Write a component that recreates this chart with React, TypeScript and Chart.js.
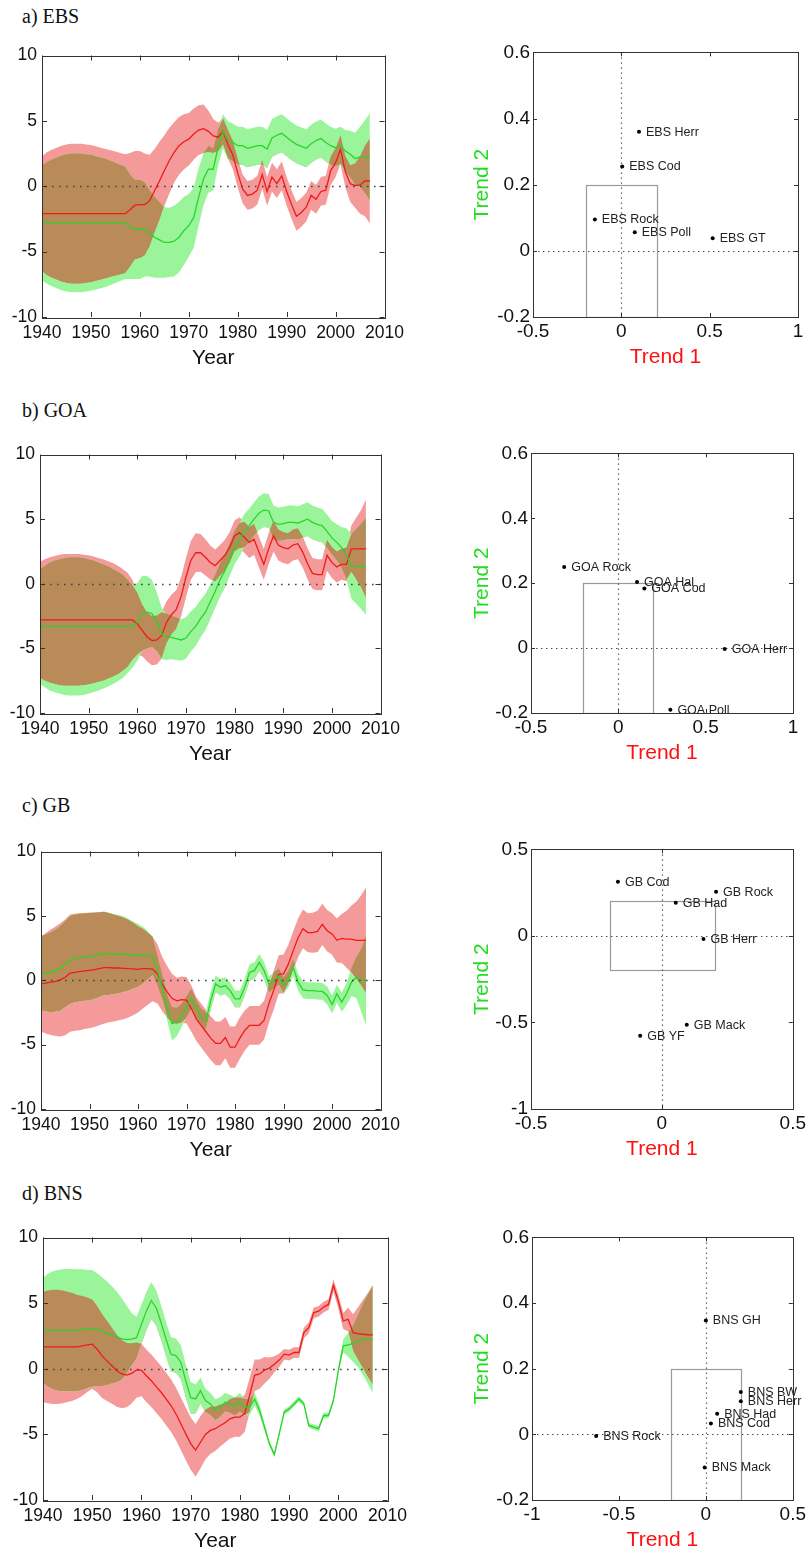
import React, { useEffect, useRef } from "react";
import { Chart, registerables } from "chart.js";

Chart.register(...registerables);

// ---------- data ----------
const YEARS = [
  1940, 1941, 1942, 1943, 1944, 1945, 1946, 1947, 1948, 1949,
  1950, 1951, 1952, 1953, 1954, 1955, 1956, 1957, 1958, 1959,
  1960, 1961, 1962, 1963, 1964, 1965, 1966, 1967, 1968, 1969,
  1970, 1971, 1972, 1973, 1974, 1975, 1976, 1977, 1978, 1979,
  1980, 1981, 1982, 1983, 1984, 1985, 1986, 1987, 1988, 1989,
  1990, 1991, 1992, 1993, 1994, 1995, 1996, 1997, 1998, 1999,
  2000, 2001, 2002, 2003, 2004, 2005, 2006, 2007,
];

// a) EBS
const EBS_T1 = [
  -2.1, -2.1, -2.1, -2.1, -2.1, -2.1, -2.1, -2.1, -2.1, -2.1,
  -2.1, -2.1, -2.1, -2.1, -2.1, -2.1, -2.1, -2.1, -1.8, -1.45,
  -1.4, -1.4, -1.1, -0.35, 0.4, 1.2, 1.95, 2.6, 3.1, 3.4,
  3.6, 4.0, 4.3, 4.4, 4.2, 3.85, 3.75, 4.2, 3.2, 2.4,
  1.0, -0.2, -0.7, -0.6, -0.3, 0.9, -0.4, 0.7, 0.2, 0.8,
  -0.4, -1.4, -2.3, -2.0, -1.6, -0.7, -1.0, -0.4, -0.3, 1.2,
  1.8, 2.8, 1.1, 0.2, 0.05, 0.1, 0.4, 0.4,
];
const EBS_T1_SE = [
  4.4, 4.7, 4.9, 5.05, 5.2, 5.3, 5.35, 5.35, 5.35, 5.3,
  5.25, 5.15, 5.05, 4.95, 4.85, 4.75, 4.65, 4.55, 4.35, 4.15,
  4.1, 3.9, 3.5, 3.2, 3.0, 2.7, 2.5, 2.3, 2.2, 2.1,
  2.0, 1.95, 1.9, 1.85, 1.6, 1.3, 1.1, 1.0, 1.1, 1.1,
  1.1, 1.1, 1.1, 1.1, 1.1, 1.1, 1.1, 1.1, 1.1, 1.1,
  1.1, 1.1, 1.1, 1.1, 1.1, 1.1, 1.1, 1.1, 1.1, 1.1,
  1.1, 1.1, 1.2, 1.4, 1.7, 2.2, 2.7, 3.25,
];
const EBS_T2 = [
  -2.8, -2.8, -2.8, -2.8, -2.8, -2.8, -2.8, -2.8, -2.8, -2.8,
  -2.8, -2.8, -2.8, -2.8, -2.8, -2.8, -2.8, -2.8, -3.1, -3.3,
  -3.3, -3.3, -3.6, -3.9, -4.1, -4.3, -4.3, -4.2, -3.9, -3.4,
  -3.0, -2.4, -0.85, 0.55, 1.3, 1.3, 3.0, 4.2, 3.5, 3.35,
  3.1, 3.1, 2.9, 3.0, 3.1, 3.1, 2.85, 3.7, 3.9, 4.05,
  3.75, 3.45, 3.2, 3.05, 2.9, 3.25, 3.5, 3.65, 3.35, 3.1,
  2.95, 3.1, 2.7, 2.45, 2.1, 2.25, 2.25, 2.25,
];
const EBS_T2_SE = [
  4.4, 4.65, 4.85, 5.0, 5.15, 5.25, 5.3, 5.3, 5.3, 5.25,
  5.2, 5.1, 5.0, 4.9, 4.75, 4.6, 4.45, 4.3, 4.0, 3.8,
  3.8, 3.6, 3.3, 3.1, 2.9, 2.7, 2.65, 2.7, 2.7, 2.6,
  2.4, 2.3, 2.2, 2.0, 1.8, 1.6, 1.4, 1.3, 1.45, 1.45,
  1.45, 1.45, 1.45, 1.45, 1.45, 1.45, 1.45, 1.45, 1.45, 1.45,
  1.45, 1.45, 1.45, 1.45, 1.45, 1.45, 1.45, 1.45, 1.45, 1.45,
  1.45, 1.45, 1.6, 1.8, 2.0, 2.3, 2.8, 3.35,
];

// b) GOA
const GOA_T1 = [
  -2.8, -2.8, -2.8, -2.8, -2.8, -2.8, -2.8, -2.8, -2.8, -2.8,
  -2.8, -2.8, -2.8, -2.8, -2.8, -2.8, -2.8, -2.8, -2.8, -2.8,
  -3.1, -3.6, -4.1, -4.4, -4.35, -4.0, -3.0, -2.4, -2.0, -1.0,
  0.5, 1.8, 2.4, 2.4, 2.05, 1.65, 1.4, 1.8, 2.2, 2.8,
  3.7, 3.95, 3.6, 3.2, 3.45, 2.45, 1.5, 2.7, 3.7, 3.0,
  2.8, 2.7, 3.0, 3.1, 2.45, 1.55, 0.8, 0.7, 0.7, 2.2,
  1.65, 1.3, 1.5, 1.5, 2.7, 2.7, 2.7, 2.7,
];
const GOA_T1_SE = [
  4.5, 4.7, 4.85, 4.95, 5.05, 5.1, 5.1, 5.1, 5.1, 5.05,
  5.0, 4.9, 4.8, 4.7, 4.55, 4.4, 4.2, 3.95, 3.65, 3.1,
  2.4, 2.0, 1.9, 1.9, 1.9, 1.8, 1.65, 1.55, 1.5, 1.5,
  1.5, 1.5, 1.5, 1.45, 1.4, 1.3, 1.25, 1.2, 1.2, 1.2,
  1.2, 1.2, 1.2, 1.2, 1.2, 1.2, 1.2, 1.2, 1.2, 1.2,
  1.2, 1.2, 1.2, 1.2, 1.2, 1.2, 1.2, 1.2, 1.2, 1.2,
  1.2, 1.2, 1.2, 1.3, 1.8, 2.4, 3.0, 3.8,
];
const GOA_T2 = [
  -3.3, -3.3, -3.3, -3.3, -3.3, -3.3, -3.3, -3.3, -3.3, -3.3,
  -3.3, -3.3, -3.3, -3.3, -3.3, -3.3, -3.3, -3.3, -3.3, -3.3,
  -2.95, -2.3, -2.2, -2.3, -2.95, -3.85, -4.1, -4.15, -4.25, -4.35,
  -4.2, -3.7, -3.3, -2.7, -2.2, -1.4, -0.6, 0.3, 1.0, 1.9,
  2.8, 3.4, 4.1, 4.5, 5.0, 5.45, 5.7, 5.65, 4.75, 4.6,
  4.65, 4.75, 4.75, 4.7, 4.85, 5.0, 4.75, 4.6, 4.5, 4.05,
  3.55, 3.2, 2.8, 2.3, 1.35, 1.35, 1.35, 1.35,
];
const GOA_T2_SE = [
  4.45, 4.7, 4.95, 5.1, 5.2, 5.3, 5.35, 5.35, 5.35, 5.3,
  5.2, 5.1, 4.95, 4.8, 4.65, 4.45, 4.25, 4.0, 3.6, 3.2,
  3.0, 2.9, 2.8, 2.6, 2.3, 2.0, 1.8, 1.7, 1.65, 1.6,
  1.6, 1.55, 1.5, 1.45, 1.4, 1.35, 1.3, 1.3, 1.3, 1.3,
  1.3, 1.3, 1.3, 1.3, 1.3, 1.3, 1.3, 1.3, 1.3, 1.3,
  1.3, 1.3, 1.3, 1.3, 1.3, 1.3, 1.3, 1.3, 1.3, 1.3,
  1.3, 1.4, 1.6, 2.0, 2.5, 2.9, 3.3, 3.75,
];

// c) GB
const GB_T1 = [
  -0.28, -0.23, -0.15, -0.08, 0.03, 0.23, 0.55, 0.62, 0.67, 0.72,
  0.77, 0.82, 0.9, 0.98, 0.98, 0.95, 0.95, 0.93, 0.9, 0.88,
  0.85, 0.9, 0.9, 0.87, 0.5, -0.3, -0.9, -1.4, -1.6, -1.5,
  -1.55, -2.2, -3.0, -3.5, -4.0, -4.5, -4.9, -4.9, -4.45, -5.2,
  -5.2, -4.5, -3.9, -3.5, -3.5, -3.5, -3.1, -1.8, -0.75, 0.45,
  0.5, 1.25, 2.3, 3.3, 4.0, 3.7, 3.7, 3.8, 4.35, 3.85,
  3.6, 3.1, 3.25, 3.2, 3.2, 3.1, 3.1, 3.1,
];
const GB_T1_SE = [
  3.7, 3.9, 4.1, 4.25, 4.4, 4.5, 4.55, 4.55, 4.55, 4.5,
  4.5, 4.45, 4.4, 4.35, 4.25, 4.15, 4.05, 3.95, 3.8, 3.6,
  3.35, 3.1, 2.8, 2.5, 2.3, 2.1, 2.0, 1.9, 1.8, 1.8,
  1.8, 1.8, 1.7, 1.7, 1.7, 1.7, 1.7, 1.7, 1.6, 1.6,
  1.6, 1.6, 1.55, 1.5, 1.5, 1.5, 1.5, 1.5, 1.5, 1.5,
  1.5, 1.5, 1.5, 1.5, 1.5, 1.5, 1.55, 1.6, 1.6, 1.6,
  1.6, 1.7, 1.9, 2.2, 2.6, 3.0, 3.5, 4.1,
];
const GB_T2 = [
  0.57, 0.57, 0.62, 0.75, 0.93, 1.26, 1.57, 1.7, 1.75, 1.8,
  1.83, 1.9, 1.98, 2.08, 2.05, 2.03, 2.03, 2.03, 1.98, 1.95,
  1.93, 1.95, 1.93, 1.88, 0.75, -0.54, -2.08, -3.37, -3.24, -2.72,
  -2.08, -1.44, -2.2, -2.85, -3.16, -1.57, -0.28, -0.54, -0.41, -0.8,
  -1.44, -1.44, -0.54, 0.62, 0.75, 1.39, 0.75, -0.33, -0.03, 0.31,
  -0.41, 0.1, 1.0, -0.15, -0.75, -0.8, -0.8, -0.85, -0.87, -1.18,
  -1.88, -1.05, -1.7, -1.05, -0.15, 0.23, 0.0, 0.0,
];
const GB_T2_SE = [
  2.9, 3.0, 3.1, 3.2, 3.3, 3.35, 3.4, 3.4, 3.4, 3.4,
  3.4, 3.35, 3.3, 3.25, 3.2, 3.1, 3.05, 2.95, 2.8, 2.6,
  2.45, 2.2, 1.9, 1.5, 1.2, 1.0, 1.0, 1.3, 1.1, 0.9,
  0.85, 0.8, 0.7, 0.7, 0.7, 0.7, 0.65, 0.65, 0.65, 0.65,
  0.65, 0.65, 0.65, 0.65, 0.65, 0.65, 0.65, 0.65, 0.65, 0.65,
  0.65, 0.65, 0.65, 0.65, 0.65, 0.65, 0.65, 0.65, 0.65, 0.7,
  0.7, 0.7, 0.75, 0.85, 1.1, 1.6, 2.4, 3.5,
];

// d) BNS
const BNS_T1 = [
  1.67, 1.67, 1.67, 1.67, 1.67, 1.67, 1.67, 1.67, 1.74, 1.82,
  1.87, 1.49, 0.98, 0.6, 0.23, -0.15, -0.4, -0.48, -0.35, -0.1,
  -0.1, -0.53, -0.91, -1.36, -1.79, -2.3, -2.8, -3.43, -4.19, -4.95,
  -5.7, -6.2, -5.6, -5.0, -4.7, -4.57, -4.32, -4.12, -3.81, -3.69,
  -3.69, -3.4, -2.0, -0.5, -0.4, -0.1, 0.05, 0.35, 0.66, 1.11,
  1.04, 1.24, 1.24, 2.75, 3.13, 4.27, 4.39, 4.7, 4.9, 6.36,
  5.15, 3.64, 3.76, 2.75, 2.68, 2.63, 2.58, 2.58,
];
const BNS_T1_SE = [
  4.2, 4.3, 4.35, 4.35, 4.3, 4.2, 4.1, 3.95, 3.8, 3.6,
  3.4, 3.3, 3.2, 3.05, 2.9, 2.75, 2.6, 2.45, 2.3, 2.1,
  2.0, 2.0, 2.0, 2.0, 2.0, 2.0, 2.0, 2.0, 2.0, 2.0,
  2.0, 2.0, 2.0, 1.9, 1.8, 1.7, 1.6, 1.5, 1.5, 1.5,
  1.5, 1.4, 1.3, 1.2, 1.1, 1.0, 0.8, 0.6, 0.5, 0.4,
  0.4, 0.4, 0.4, 0.4, 0.4, 0.4, 0.4, 0.4, 0.4, 0.45,
  0.5, 0.6, 0.9, 1.4, 2.0, 2.6, 3.2, 3.8,
];
const BNS_T2 = [
  2.93, 2.93, 2.93, 2.93, 2.93, 2.93, 2.93, 2.93, 2.98, 3.03,
  3.08, 2.98, 2.83, 2.7, 2.58, 2.42, 2.27, 2.22, 2.25, 2.37,
  3.38, 4.39, 5.2, 4.65, 3.51, 2.25, 1.1, 1.0, 0.5, -0.9,
  -2.2, -2.3, -1.67, -2.42, -2.68, -3.13, -2.93, -2.55, -2.68, -2.88,
  -2.55, -2.93, -2.93, -2.3, -3.18, -4.44, -5.7, -6.54, -4.95, -3.31,
  -3.06, -2.68, -2.3, -2.68, -4.32, -4.44, -4.57, -3.56, -3.56, -2.42,
  -0.15, 1.74, 1.82, 1.92, 2.12, 2.25, 2.25, 2.25,
];
const BNS_T2_SE = [
  4.0, 4.3, 4.5, 4.6, 4.65, 4.67, 4.67, 4.65, 4.6, 4.5,
  4.45, 4.3, 4.15, 3.95, 3.7, 3.45, 3.1, 2.6, 2.0, 1.6,
  1.5, 1.45, 1.4, 1.35, 1.3, 1.3, 1.3, 1.3, 1.3, 1.25,
  1.2, 1.1, 1.0, 0.9, 0.85, 0.8, 0.75, 0.7, 0.7, 0.7,
  0.7, 0.65, 0.6, 0.5, 0.4, 0.3, 0.2, 0.2, 0.2, 0.2,
  0.2, 0.2, 0.2, 0.2, 0.2, 0.2, 0.2, 0.2, 0.2, 0.2,
  0.2, 0.5, 0.9, 1.4, 2.0, 2.7, 3.4, 4.1,
];

// loadings (scatter panels)
const EBS_SPECIES = ["EBS Herr", "EBS Cod", "EBS Rock", "EBS Poll", "EBS GT"];
const EBS_LOAD1 = [0.1, 0.005, -0.15, 0.076, 0.517];
const EBS_LOAD2 = [0.36, 0.255, 0.095, 0.056, 0.038];

const GOA_SPECIES = ["GOA Rock", "GOA Hal", "GOA Cod", "GOA Herr", "GOA Poll"];
const GOA_LOAD1 = [-0.31, 0.107, 0.149, 0.609, 0.298];
const GOA_LOAD2 = [0.25, 0.204, 0.184, -0.003, -0.19];

const GB_SPECIES = ["GB Cod", "GB Rock", "GB Had", "GB Herr", "GB Mack", "GB YF"];
const GB_LOAD1 = [-0.168, 0.207, 0.053, 0.159, 0.095, -0.083];
const GB_LOAD2 = [0.313, 0.256, 0.192, -0.017, -0.513, -0.577];

const BNS_SPECIES = ["BNS GH", "BNS BW", "BNS Herr", "BNS Had", "BNS Cod", "BNS Rock", "BNS Mack"];
const BNS_LOAD1 = [0.0, 0.201, 0.201, 0.065, 0.029, -0.631, -0.007];
const BNS_LOAD2 = [0.347, 0.129, 0.101, 0.063, 0.033, -0.005, -0.101];

// axis ranges
const YEAR_AXIS = { min: 1940, max: 2010, step: 10 };
const TREND_AXIS = { min: -10, max: 10, step: 5 };
const EBS_X = { min: -0.5, max: 1, step: 0.5 };
const EBS_Y = { min: -0.2, max: 0.6, step: 0.2 };
const GOA_X = { min: -0.5, max: 1, step: 0.5 };
const GOA_Y = { min: -0.2, max: 0.6, step: 0.2 };
const GB_X = { min: -0.5, max: 0.5, step: 0.5 };
const GB_Y = { min: -1, max: 0.5, step: 0.5 };
const BNS_X = { min: -1, max: 0.5, step: 0.5 };
const BNS_Y = { min: -0.2, max: 0.6, step: 0.2 };
const BOX_HALF = 0.2;

// ---------- styles ----------
const SANS = '"Liberation Sans", Arial, sans-serif';
const SERIF = '"Liberation Serif", "Times New Roman", serif';
const RED_LINE = "#f01a1a";
const GREEN_LINE = "#2ad42a";
const RED_BAND = "#f59a9a";
const GREEN_BAND = "#9af59a";
const OVERLAP = "#b98b58";
const FRAME = "#333333";

type Plot = { l: number; t: number; r: number; b: number };

const fmt = (v: any) => String(Math.round(Number(v) * 100) / 100);

function drawFrameAndTicks(chart: any, len: number) {
  const { ctx, chartArea: a, scales } = chart;
  const xs = scales.x;
  const ys = scales.y;
  ctx.save();
  ctx.strokeStyle = FRAME;
  ctx.lineWidth = 1;
  ctx.setLineDash([]);
  ctx.beginPath();
  xs.ticks.forEach((t: any) => {
    const px = Math.round(xs.getPixelForValue(t.value)) + 0.5;
    ctx.moveTo(px, a.bottom);
    ctx.lineTo(px, a.bottom - len);
    ctx.moveTo(px, a.top);
    ctx.lineTo(px, a.top + len);
  });
  ys.ticks.forEach((t: any) => {
    const py = Math.round(ys.getPixelForValue(t.value)) + 0.5;
    ctx.moveTo(a.left, py);
    ctx.lineTo(a.left + len, py);
    ctx.moveTo(a.right, py);
    ctx.lineTo(a.right - len, py);
  });
  ctx.stroke();
  ctx.strokeRect(
    Math.round(a.left) + 0.5,
    Math.round(a.top) + 0.5,
    Math.round(a.right - a.left),
    Math.round(a.bottom - a.top)
  );
  ctx.restore();
}

function TimeSeriesPanel(props: { plot: Plot; t1: number[]; s1: number[]; t2: number[]; s2: number[] }) {
  const { plot, t1, s1, t2, s2 } = props;
  const ref = useRef<HTMLCanvasElement | null>(null);
  const L = 40, T = 14, R = 24, B = 54;
  const w = plot.r - plot.l + L + R;
  const h = plot.b - plot.t + T + B;

  useEffect(() => {
    const pts = (vals: number[]) => YEARS.map((x, i) => ({ x, y: vals[i] }));
    const rLo = t1.map((v, i) => v - s1[i]);
    const rHi = t1.map((v, i) => v + s1[i]);
    const gLo = t2.map((v, i) => v - s2[i]);
    const gHi = t2.map((v, i) => v + s2[i]);
    const oLo = rLo.map((v, i) => Math.max(v, gLo[i]));
    const oHi = rHi.map((v, i) => Math.min(v, gHi[i]));
    const bound = (vals: number[], order: number, fill: any = false, bg = "rgba(0,0,0,0)") => ({
      data: pts(vals),
      borderWidth: 0,
      borderColor: "rgba(0,0,0,0)",
      backgroundColor: bg,
      pointRadius: 0,
      tension: 0,
      fill,
      order,
    });
    const chart = new Chart(ref.current as HTMLCanvasElement, {
      type: "line",
      data: {
        datasets: [
          bound(rLo, 10),
          bound(rHi, 9, "-1", RED_BAND),
          bound(gLo, 8),
          bound(gHi, 7, "-1", GREEN_BAND),
          bound(oLo, 6),
          bound(oHi, 5, { target: "-1", above: OVERLAP, below: "rgba(0,0,0,0)" }, OVERLAP),
          { data: pts(t1), borderColor: RED_LINE, borderWidth: 1.3, pointRadius: 0, tension: 0, fill: false, order: 2 },
          { data: pts(t2), borderColor: GREEN_LINE, borderWidth: 1.3, pointRadius: 0, tension: 0, fill: false, order: 1 },
        ] as any,
      },
      options: {
        responsive: false,
        animation: false,
        events: [],
        layout: { padding: { left: 0, top: T, right: R, bottom: 0 } },
        plugins: { legend: { display: false }, tooltip: { enabled: false } },
        scales: {
          x: {
            type: "linear",
            min: YEAR_AXIS.min,
            max: YEAR_AXIS.max,
            afterFit: (s: any) => { s.height = B; },
            ticks: {
              stepSize: YEAR_AXIS.step, autoSkip: false, maxRotation: 0, padding: 6,
              color: "#111", font: { family: SANS, size: 17.5 }, callback: (v: any) => String(v),
            },
            grid: { display: false, drawTicks: false },
            border: { display: false },
            title: { display: true, text: "Year", color: "#111", font: { family: SANS, size: 21 }, padding: { top: 0, bottom: 0 } },
          },
          y: {
            type: "linear",
            min: TREND_AXIS.min,
            max: TREND_AXIS.max,
            afterFit: (s: any) => { s.width = L; },
            ticks: { stepSize: TREND_AXIS.step, padding: 5, color: "#111", font: { family: SANS, size: 17.5 }, callback: fmt },
            grid: { display: false, drawTicks: false },
            border: { display: false },
          },
        },
      } as any,
      plugins: [
        {
          id: "tsDeco",
          afterDatasetsDraw(c: any) {
            const { ctx, chartArea: a, scales } = c;
            const y0 = Math.round(scales.y.getPixelForValue(0)) + 0.5;
            ctx.save();
            ctx.strokeStyle = "#444";
            ctx.lineWidth = 1.5;
            ctx.setLineDash([1.6, 5.4]);
            ctx.beginPath();
            ctx.moveTo(a.left + 3, y0);
            ctx.lineTo(a.right, y0);
            ctx.stroke();
            ctx.restore();
            drawFrameAndTicks(c, 5);
          },
        },
      ],
    });
    return () => chart.destroy();
  }, []);

  return (
    <canvas
      ref={ref}
      width={w}
      height={h}
      style={{ position: "absolute", left: plot.l - L, top: plot.t - T, width: w, height: h }}
    />
  );
}

function ScatterPanel(props: {
  plot: Plot; xr: { min: number; max: number; step: number }; yr: { min: number; max: number; step: number };
  names: string[]; l1: number[]; l2: number[];
}) {
  const { plot, xr, yr, names, l1, l2 } = props;
  const ref = useRef<HTMLCanvasElement | null>(null);
  const L = 67, T = 14, B = 53;
  const R = Math.max(11, 809 - plot.r);
  const w = plot.r - plot.l + L + R;
  const h = plot.b - plot.t + T + B;
  const left = plot.l - L;
  const titlePad = 482 - left - 12.6;

  useEffect(() => {
    const chart = new Chart(ref.current as HTMLCanvasElement, {
      type: "scatter",
      data: {
        datasets: [
          {
            data: l1.map((x, i) => ({ x, y: l2[i] })),
            pointRadius: 2,
            pointBackgroundColor: "#000",
            pointBorderWidth: 0,
            borderColor: "#000",
          },
        ],
      },
      options: {
        responsive: false,
        animation: false,
        events: [],
        layout: { padding: { left: 0, top: T, right: R, bottom: 0 } },
        plugins: { legend: { display: false }, tooltip: { enabled: false } },
        scales: {
          x: {
            type: "linear", min: xr.min, max: xr.max,
            afterFit: (s: any) => { s.height = B; },
            ticks: { stepSize: xr.step, autoSkip: false, maxRotation: 0, padding: 3, color: "#111", font: { family: SANS, size: 19 }, callback: fmt },
            grid: { display: false, drawTicks: false },
            border: { display: false },
            title: { display: true, text: "Trend 1", color: "#ff1010", font: { family: SANS, size: 21 }, padding: { top: 0, bottom: 0 } },
          },
          y: {
            type: "linear", min: yr.min, max: yr.max,
            afterFit: (s: any) => { s.width = L; },
            ticks: { stepSize: yr.step, padding: 3, color: "#111", font: { family: SANS, size: 19 }, callback: fmt },
            grid: { display: false, drawTicks: false },
            border: { display: false },
            title: { display: true, text: "Trend 2", color: "#22dd22", font: { family: SANS, size: 21 }, padding: { top: titlePad, bottom: 0 } },
          },
        },
      } as any,
      plugins: [
        {
          id: "scDeco",
          beforeDatasetsDraw(c: any) {
            const { ctx, chartArea: a, scales } = c;
            const xs = scales.x, ys = scales.y;
            ctx.save();
            ctx.beginPath();
            ctx.rect(a.left, a.top, a.right - a.left, a.bottom - a.top);
            ctx.clip();
            const bx0 = xs.getPixelForValue(-BOX_HALF), bx1 = xs.getPixelForValue(BOX_HALF);
            const by0 = ys.getPixelForValue(-BOX_HALF), by1 = ys.getPixelForValue(BOX_HALF);
            ctx.strokeStyle = "#9a9a9a";
            ctx.lineWidth = 1.2;
            ctx.strokeRect(Math.round(bx0) + 0.5, Math.round(by1) + 0.5, Math.round(bx1 - bx0), Math.round(by0 - by1));
            const x0 = Math.round(xs.getPixelForValue(0)) + 0.5;
            const y0 = Math.round(ys.getPixelForValue(0)) + 0.5;
            ctx.strokeStyle = "#444";
            ctx.lineWidth = 1.2;
            ctx.setLineDash([1.4, 3.6]);
            ctx.beginPath();
            ctx.moveTo(x0, a.top);
            ctx.lineTo(x0, a.bottom);
            ctx.moveTo(a.left, y0);
            ctx.lineTo(a.right, y0);
            ctx.stroke();
            ctx.restore();
          },
          afterDatasetsDraw(c: any) {
            const { ctx } = c;
            const meta = c.getDatasetMeta(0);
            ctx.save();
            ctx.fillStyle = "#222";
            ctx.font = `12.5px ${SANS}`;
            ctx.textBaseline = "middle";
            ctx.textAlign = "left";
            meta.data.forEach((el: any, i: number) => {
              ctx.fillText(names[i], el.x + 7, el.y + 0.5);
            });
            ctx.restore();
            drawFrameAndTicks(c, 4);
          },
        },
      ],
    });
    return () => chart.destroy();
  }, []);

  return (
    <canvas
      ref={ref}
      width={w}
      height={h}
      style={{ position: "absolute", left, top: plot.t - T, width: w, height: h }}
    />
  );
}

function Title(props: { text: string; top: number }) {
  return (
    <div
      style={{
        position: "absolute", left: 22, top: props.top, fontFamily: SERIF, fontSize: 20,
        lineHeight: "20px", color: "#111", whiteSpace: "nowrap",
      }}
    >
      {props.text}
    </div>
  );
}

export default function App() {
  return (
    <div style={{ position: "absolute", left: 0, top: 0, width: 809, height: 1553, overflow: "hidden", background: "#fff" }}>
      <Title text="a) EBS" top={6} />
      <TimeSeriesPanel plot={{ l: 42, t: 54, r: 386, b: 317 }} t1={EBS_T1} s1={EBS_T1_SE} t2={EBS_T2} s2={EBS_T2_SE} />
      <ScatterPanel plot={{ l: 533, t: 52, r: 798, b: 317 }} xr={EBS_X} yr={EBS_Y} names={EBS_SPECIES} l1={EBS_LOAD1} l2={EBS_LOAD2} />

      <Title text="b) GOA" top={400} />
      <TimeSeriesPanel plot={{ l: 40, t: 453, r: 382, b: 713 }} t1={GOA_T1} s1={GOA_T1_SE} t2={GOA_T2} s2={GOA_T2_SE} />
      <ScatterPanel plot={{ l: 531, t: 453, r: 793, b: 713 }} xr={GOA_X} yr={GOA_Y} names={GOA_SPECIES} l1={GOA_LOAD1} l2={GOA_LOAD2} />

      <Title text="c) GB" top={795} />
      <TimeSeriesPanel plot={{ l: 41, t: 850, r: 382, b: 1109 }} t1={GB_T1} s1={GB_T1_SE} t2={GB_T2} s2={GB_T2_SE} />
      <ScatterPanel plot={{ l: 531, t: 849, r: 793, b: 1109 }} xr={GB_X} yr={GB_Y} names={GB_SPECIES} l1={GB_LOAD1} l2={GB_LOAD2} />

      <Title text="d) BNS" top={1183} />
      <TimeSeriesPanel plot={{ l: 43, t: 1236, r: 389, b: 1500 }} t1={BNS_T1} s1={BNS_T1_SE} t2={BNS_T2} s2={BNS_T2_SE} />
      <ScatterPanel plot={{ l: 532, t: 1237, r: 797, b: 1500 }} xr={BNS_X} yr={BNS_Y} names={BNS_SPECIES} l1={BNS_LOAD1} l2={BNS_LOAD2} />
    </div>
  );
}
